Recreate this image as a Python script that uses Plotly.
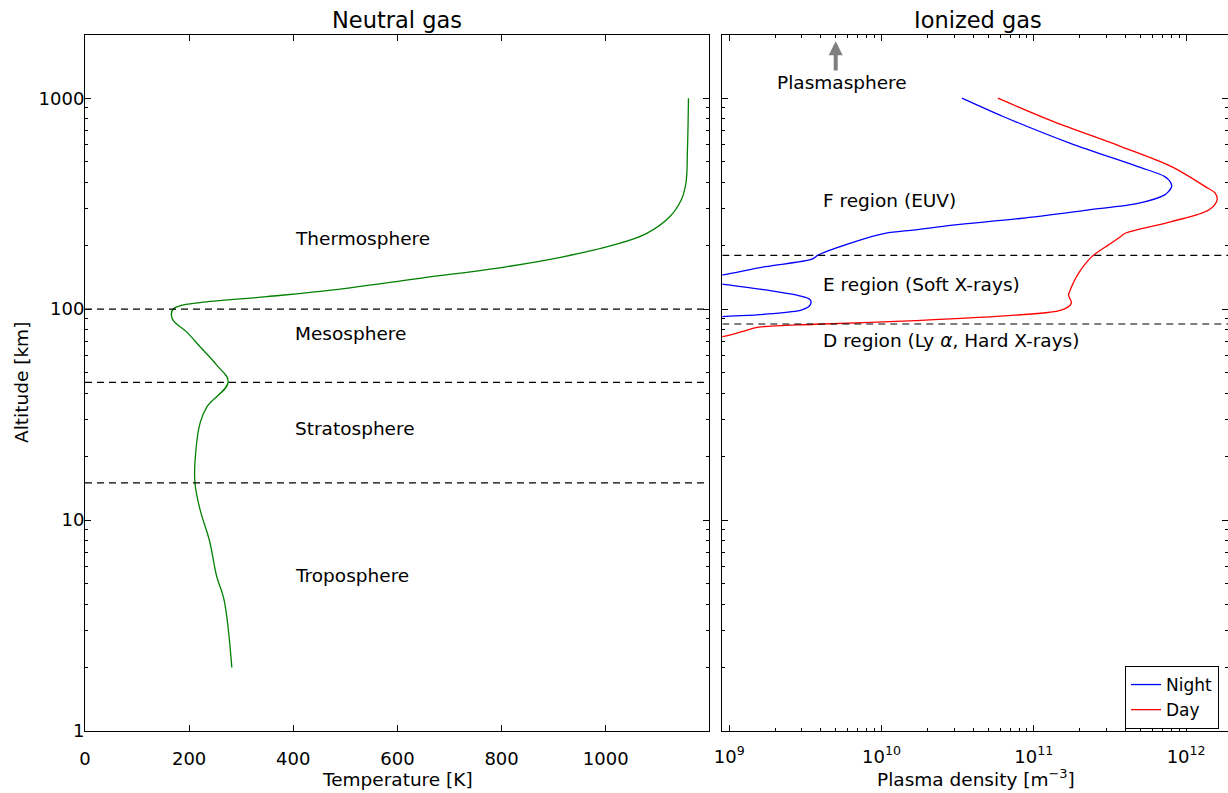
import numpy as np
import plotly.graph_objects as go

# ---- Neutral atmosphere: temperature profile ----
temp_alt_km = [2.0, 4.2, 5.4, 8.0, 11.2, 15.2, 21.5, 28.8, 34.4, 45.2, 54.3, 66.3,
               78.0, 88.7, 95.5, 100.5, 103.7, 107.4, 114.6, 123.3, 140.0, 158.8,
               177.0, 201.0, 228.0, 274.0, 329.0, 394.0, 567.0, 1000.0]
temp_K = [282, 267, 253, 239, 221, 211, 213, 221, 234, 275, 253, 221,
          195, 169, 166, 170, 182, 221, 349, 477, 643, 809,
          918, 1014, 1078, 1123, 1145, 1154, 1157, 1159]

# ---- Ionosphere: plasma density profiles (log10 of m^-3) ----
night_alt_km = [1000, 819, 611, 474, 425, 402, 381, 360, 348, 317, 295, 269, 250,
                237.5, 228.6, 209, 180.7, 172.5, 159, 145.3, 138, 131.3, 123.3,
                115.9, 110.6, 104.7, 99.1, 94.6, 92.1, 88, 80]
night_log_n = [10.528, 10.798, 11.240, 11.683, 11.860, 11.895, 11.905, 11.883, 11.860,
               11.683, 11.351, 10.908, 10.466, 10.221, 10.023, 9.827, 9.586, 9.543,
               9.236, 8.956, 8.75, 8.956, 9.236, 9.455, 9.532, 9.532, 9.477, 9.236,
               8.956, 8.6, 8.0]

day_alt_km = [1000, 774, 590, 474, 381, 354, 329, 295, 260, 229, 219, 201.6, 177.4,
              148, 123.3, 116.8, 106.7, 99.1, 93.6, 88.2, 84.8, 82.1, 78.2, 74.1,
              70, 65]
day_log_n = [10.764, 11.130, 11.573, 11.905, 12.126, 12.192, 12.203, 12.148, 11.905,
             11.600, 11.564, 11.490, 11.381, 11.294, 11.239, 11.228, 11.246, 11.185,
             10.878, 10.221, 9.565, 9.193, 9.083, 8.956, 8.7, 8.4]

# Layer boundaries [km]
neutral_bounds_km = [15, 45, 100]
ion_bounds_km = [85, 180]

# Layer names and the altitude [km] each is written at
neutral_layers = [("Thermosphere", 216), ("Mesosphere", 76.5), ("Stratosphere", 27.2),
                  ("Troposphere", 5.45)]
ion_layers = [("F region (EUV)", 326), ("E region (Soft X-rays)", 130.5),
              ("D region (Ly <i>α</i>, Hard X-rays)", 71.2)]

T_RANGE = [0, 1199]
N_RANGE_LOG = [np.log10(9.0e8), 12.275]
ALT_RANGE_LOG = [0, np.log10(2000)]

FONT = "DejaVu Sans"
W, H = 1228, 793
night_n = [10 ** v for v in night_log_n]
day_n = [10 ** v for v in day_log_n]

fig = go.Figure()

# Temperature curve
fig.add_trace(go.Scatter(x=temp_K, y=temp_alt_km, mode="lines",
                         line=dict(color="#008000", width=1.3, shape="spline", smoothing=1.1),
                         xaxis="x", yaxis="y", showlegend=False))

# Layer boundaries, neutral panel
for b in neutral_bounds_km:
    fig.add_trace(go.Scatter(x=T_RANGE, y=[b, b], mode="lines",
                             line=dict(color="black", width=1.2, dash="7px,5px"),
                             xaxis="x", yaxis="y", showlegend=False, hoverinfo="skip"))

# Density curves
fig.add_trace(go.Scatter(x=night_n, y=night_alt_km, mode="lines", name="Night",
                         line=dict(color="#0000ff", width=1.3, shape="spline", smoothing=0.9),
                         xaxis="x2", yaxis="y2"))
fig.add_trace(go.Scatter(x=day_n, y=day_alt_km, mode="lines", name="Day",
                         line=dict(color="#ff0000", width=1.3, shape="spline", smoothing=0.9),
                         xaxis="x2", yaxis="y2"))

# Layer boundaries, ionized panel
for b in ion_bounds_km:
    fig.add_trace(go.Scatter(x=[10 ** N_RANGE_LOG[0], 10 ** N_RANGE_LOG[1]], y=[b, b],
                             mode="lines",
                             line=dict(color="black", width=1.2, dash="7px,5px"),
                             xaxis="x2", yaxis="y2", showlegend=False, hoverinfo="skip"))

minor_alt = [m * 10 ** d for d in range(0, 4) for m in range(2, 10) if m * 10 ** d <= 2000]
minor_n = [m * 10 ** d for d in range(9, 13) for m in range(2, 10)]

axis_common = dict(showline=True, linecolor="black", linewidth=1, mirror="allticks",
                   ticks="inside", ticklen=6, tickcolor="black", tickwidth=1,
                   showgrid=False, zeroline=False, automargin=False,
                   tickfont=dict(family=FONT, size=18, color="black"))

Y_DOMAIN = [62 / H, 758.3 / H]

fig.update_layout(
    width=W, height=H,
    margin=dict(l=0, r=0, t=0, b=0),
    paper_bgcolor="white", plot_bgcolor="white",
    font=dict(family=FONT, size=18, color="black"),
    xaxis=dict(domain=[85 / W, 709.3 / W], range=T_RANGE,
               tickvals=[0, 200, 400, 600, 800, 1000], anchor="y",
               ticklabelstandoff=11, **axis_common),
    yaxis=dict(domain=Y_DOMAIN, type="log", range=ALT_RANGE_LOG,
               tickvals=[1, 10, 100, 1000], ticktext=["1", "10", "100", "1000"],
               minor=dict(tickvals=minor_alt, ticks="inside", ticklen=3, tickcolor="black"),
               anchor="x", ticklabelstandoff=-4, **axis_common),
    xaxis2=dict(domain=[722.3 / W, 1.0], type="log", range=N_RANGE_LOG,
                tickvals=[1e9, 1e10, 1e11, 1e12],
                ticktext=["10<sup>9</sup>", "10<sup>10</sup>", "10<sup>11</sup>", "10<sup>12</sup>"],
                minor=dict(tickvals=minor_n, ticks="inside", ticklen=3, tickcolor="black"),
                anchor="y2", ticklabelstandoff=9, **axis_common),
    yaxis2=dict(domain=Y_DOMAIN, type="log", range=ALT_RANGE_LOG,
                matches="y", showticklabels=False,
                tickvals=[1, 10, 100, 1000],
                minor=dict(tickvals=minor_alt, ticks="inside", ticklen=3, tickcolor="black"),
                anchor="x2", **axis_common),
    legend=dict(x=1219 / W, xanchor="right", y=64 / H, yanchor="bottom",
                bgcolor="white", bordercolor="black", borderwidth=1,
                font=dict(family=FONT, size=17, color="black")),
)

annotations = [
    # panel titles
    dict(text="Neutral gas", x=(85 + 709.3) / 2 / W, y=1 - 20 / H, xref="paper", yref="paper",
         showarrow=False, font=dict(size=22.5), xanchor="center", yanchor="middle"),
    dict(text="Ionized gas", x=978 / W, y=1 - 20 / H, xref="paper", yref="paper",
         showarrow=False, font=dict(size=22.5), xanchor="center", yanchor="middle"),
    # axis titles
    dict(text="Temperature [K]", x=397 / W, y=1 - 779 / H, xref="paper", yref="paper",
         showarrow=False, font=dict(size=18.5), xanchor="center", yanchor="middle"),
    dict(text="Plasma density [m<sup>−3</sup>]", x=976 / W, y=1 - 778 / H, xref="paper", yref="paper",
         showarrow=False, font=dict(size=18.5), xanchor="center", yanchor="middle"),
    dict(text="Altitude [km]", x=21 / W, y=1 - 383 / H, xref="paper", yref="paper",
         showarrow=False, font=dict(size=18.5), textangle=-90,
         xanchor="center", yanchor="middle"),
]
for label, alt in neutral_layers:
    annotations.append(dict(text=label, x=400, y=np.log10(alt), xref="x", yref="y",
                            showarrow=False, xanchor="left", yanchor="middle",
                            font=dict(size=18.5)))
for label, alt in ion_layers:
    annotations.append(dict(text=label, x=np.log10(4e9), y=np.log10(alt), xref="x2", yref="y2",
                            showarrow=False, xanchor="left", yanchor="middle",
                            font=dict(size=18.5)))
# Plasmasphere marker with upward arrow
annotations.append(dict(text="Plasmasphere", x=np.log10(2e9), y=np.log10(1190), xref="x2", yref="y2",
                        showarrow=False, xanchor="left", yanchor="middle", font=dict(size=18.5)))
annotations.append(dict(text="", x=np.log10(5e9), y=np.log10(1860), xref="x2", yref="y2",
                        ax=np.log10(5e9), ay=np.log10(1330), axref="x2", ayref="y2",
                        showarrow=True, arrowhead=2, arrowsize=0.7, arrowwidth=4,
                        arrowcolor="#808080"))
fig.update_layout(annotations=annotations)

fig.write_html("out.html")
